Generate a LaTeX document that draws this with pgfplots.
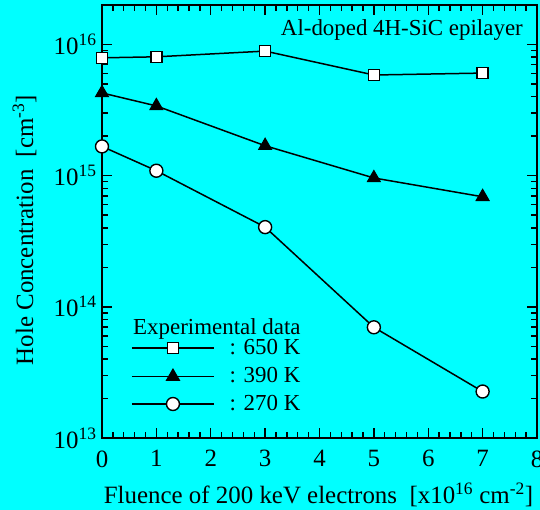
\documentclass[border=0pt]{standalone}
\usepackage{fontspec}
\setmainfont{Liberation Serif}
\usepackage{pgfplots}
\pgfplotsset{compat=1.18}
\definecolor{bgc}{RGB}{0,255,255}
\begin{document}
\begin{tikzpicture}
\fill[bgc] (-102bp,-72bp) rectangle (438bp,438bp);
\begin{axis}[
  at={(0,0)}, anchor=south west,
  scale only axis, width=435bp, height=433bp,
  xmin=0, xmax=8, ymode=log, ymin=1e13, ymax=2e16,
  xtick={0,1,2,3,4,5,6,7,8}, minor x tick num=4,
  ytick={1e13,1e14,1e15,1e16},
  yticklabels={10\textsuperscript{13},10\textsuperscript{14},10\textsuperscript{15},10\textsuperscript{16}},
  tick align=inside,
  major tick length=10bp, minor tick length=6bp,
  every tick/.style={black, line width=1.4bp},
  axis line style={line width=2bp},
  ticklabel style={font=\fontsize{25}{30}\selectfont},
  xticklabel style={yshift=-9bp},
  yticklabel style={xshift=-2bp},
  /pgf/number format/assume math mode=true,
  xlabel={Fluence of 200 keV electrons\ \ [x10\textsuperscript{16} cm\textsuperscript{-2}]},
  ylabel={Hole Concentration\ \ [cm\textsuperscript{-3}]},
  label style={font=\fontsize{25}{30}\selectfont},
  xlabel style={at={(axis description cs:0.4977,-0.1524)}, anchor=base},
  ylabel style={at={(axis description cs:-0.1586,0.48)}, anchor=base},
  clip=false,
  legend cell align=left,
  legend style={at={(rel axis cs:0.0667,0.2221)}, anchor=north west, draw=none, fill=none,
    font=\fontsize{23}{27}\selectfont, row sep=10bp, inner sep=0pt,
    nodes={inner sep=0pt, text height=12bp, text depth=5bp},
    /tikz/every odd column/.append style={column sep=15bp}},
  legend image code/.code={\draw[mark repeat=2,mark phase=2,#1,line width=1.5bp] plot coordinates {(0bp,2.5bp)(41bp,2.5bp)(82bp,2.5bp)};},
]
\addplot[black, line width=1.5bp, mark=square*, mark size=5.5bp, mark options={fill=white, solid, line width=1.4bp}]
  coordinates {(0,7.91e15)(1,8.05e15)(3,8.9e15)(5,5.85e15)(7,6.05e15)};
\addlegendentry{: 650 K}
\addplot[black, line width=1.5bp, mark=triangle*, mark size=7.5bp, mark options={fill=black, solid, line width=1bp}]
  coordinates {(0,4.27e15)(1,3.4e15)(3,1.69e15)(5,9.6e14)(7,6.9e14)};
\addlegendentry{: 390 K}
\addplot[black, line width=1.5bp, mark=*, mark size=6.5bp, mark options={fill=white, solid, line width=1.4bp}]
  coordinates {(0,1.67e15)(1,1.09e15)(3,4.05e14)(5,6.98e13)(7,2.26e13)};
\addlegendentry{: 270 K}
\node[anchor=base west, inner sep=0pt, font=\fontsize{23}{27}\selectfont] at (rel axis cs:0.0713,0.2386) {Experimental data};
\node[anchor=base east, inner sep=0pt, font=\fontsize{23}{27}\selectfont] at (rel axis cs:0.9678,0.9291) {Al-doped 4H-SiC epilayer};
\end{axis}
\pgfresetboundingbox
\useasboundingbox (-102bp,-72bp) rectangle (438bp,438bp);
\end{tikzpicture}
\end{document}
